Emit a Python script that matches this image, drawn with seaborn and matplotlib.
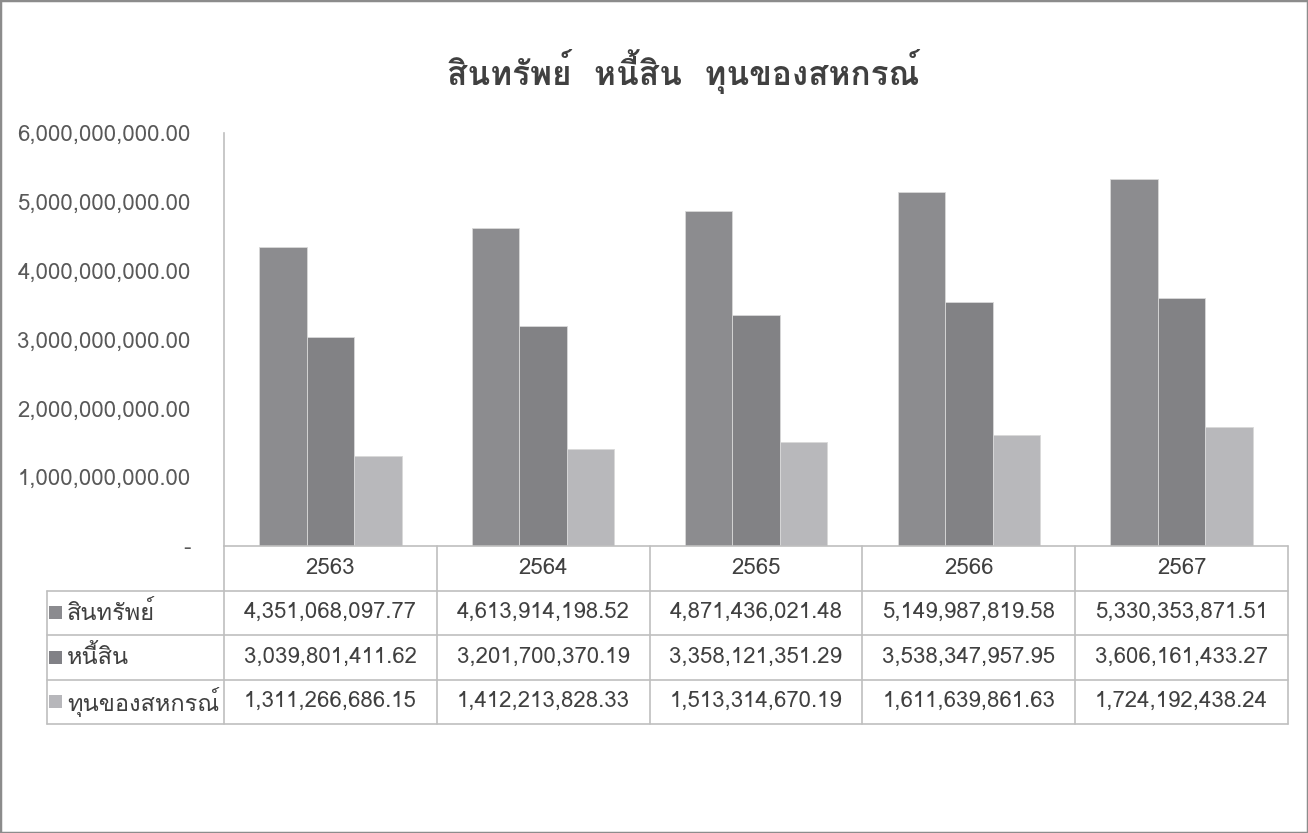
import numpy as np
import pandas as pd
import seaborn as sns
import matplotlib.pyplot as plt
from matplotlib import font_manager
from matplotlib.patches import Rectangle
from matplotlib.transforms import blended_transform_factory

# ข้อมูล
years = ["2563", "2564", "2565", "2566", "2567"]
series = ["สินทรัพย์", "หนี้สิน", "ทุนของสหกรณ์"]
assets = [4351068097.77, 4613914198.52, 4871436021.48, 5149987819.58, 5330353871.51]
liabilities = [3039801411.62, 3201700370.19, 3358121351.29, 3538347957.95, 3606161433.27]
equity = [1311266686.15, 1412213828.33, 1513314670.19, 1611639861.63, 1724192438.24]
colors = ["#8b8b8f", "#818186", "#b7b7bb"]
title = "สินทรัพย์  หนี้สิน  ทุนของสหกรณ์"


def find_thai_font():
    # หาฟอนต์ที่มีอักษรไทย
    from fontTools.ttLib import TTFont
    for f in font_manager.fontManager.ttflist:
        try:
            cmap = TTFont(f.fname, fontNumber=0, lazy=True).getBestCmap()
        except Exception:
            continue
        if cmap and 0x0E2A in cmap:
            return f.name
    return None


sns.set_style("white")
thai = find_thai_font()
fams = ["DejaVu Sans"]
if thai:
    fams = [thai, "DejaVu Sans"]
plt.rcParams["font.family"] = fams

df = pd.DataFrame({
    "year": years * 3,
    "series": [series[0]] * 5 + [series[1]] * 5 + [series[2]] * 5,
    "value": assets + liabilities + equity,
})

W, H = 1308, 833
fig = plt.figure(figsize=(W / 100, H / 100), dpi=100)
ax = fig.add_axes([224 / W, (H - 546) / H, (1288 - 224) / W, (546 - 133) / H])

sns.barplot(data=df, x="year", y="value", hue="series", palette=colors,
            width=0.67, edgecolor="#d9d9d9", linewidth=0.6, legend=False, ax=ax)

ax.set_xlim(-0.5, len(years) - 0.5)
ax.set_ylim(0, 6e9)
yt = np.arange(0, 6e9 + 1, 1e9)
ax.set_yticks(yt)
ax.set_yticklabels(["-" if v == 0 else f"{v:,.2f}" for v in yt])
ax.tick_params(axis="y", length=0, pad=24, labelsize=16, labelcolor="#595959")
ax.set_xticks([])
ax.set_xlabel("")
ax.set_ylabel("")
for s in ["top", "right", "bottom"]:
    ax.spines[s].set_visible(False)
ax.spines["left"].set_color("#bfbfbf")
ax.spines["left"].set_linewidth(1.2)

# ตารางข้อมูล
tr = blended_transform_factory(ax.transData, ax.transAxes)
rh = 44.5 / 413
left = -0.5 - 177 / 212.8
lc = "#bfbfbf"
n = len(years)
rows = [assets, liabilities, equity]
# เส้นแนวนอน
ax.plot([-0.5, n - 0.5], [0, 0], color=lc, lw=1.2, transform=tr, clip_on=False)
for r in range(1, 5):
    ax.plot([left, n - 0.5], [-r * rh, -r * rh], color=lc, lw=1.2, transform=tr, clip_on=False)
# เส้นแนวตั้ง
for i in range(n + 1):
    ax.plot([i - 0.5, i - 0.5], [0, -4 * rh], color=lc, lw=1.2, transform=tr, clip_on=False)
ax.plot([left, left], [-rh, -4 * rh], color=lc, lw=1.2, transform=tr, clip_on=False)

for i, y in enumerate(years):
    ax.text(i, -0.5 * rh, y, ha="center", va="center", fontsize=16, color="#404040", transform=tr)
for r, vals in enumerate(rows):
    yc = -(r + 1.5) * rh
    for i, v in enumerate(vals):
        ax.text(i, yc, f"{v:,.2f}", ha="center", va="center", fontsize=16, color="#404040", transform=tr)
    ax.add_patch(Rectangle((left + 2 / 212.8, yc - 6.5 / 413), 13 / 212.8, 13 / 413,
                           facecolor=colors[r], edgecolor="none", transform=tr, clip_on=False))
    ax.text(left + 20 / 212.8, yc, series[r], ha="left", va="center", fontsize=17,
            color="#404040", transform=tr)

fig.text(683 / W, 1 - 72 / H, title, ha="center", va="center", fontsize=24,
         fontweight="bold", color="#404040")

fig.patches.append(Rectangle((0, 0), 1, 1, transform=fig.transFigure, fill=False,
                             edgecolor="#8c8c8c", lw=2.5))

fig.savefig("out.png", dpi=100)
